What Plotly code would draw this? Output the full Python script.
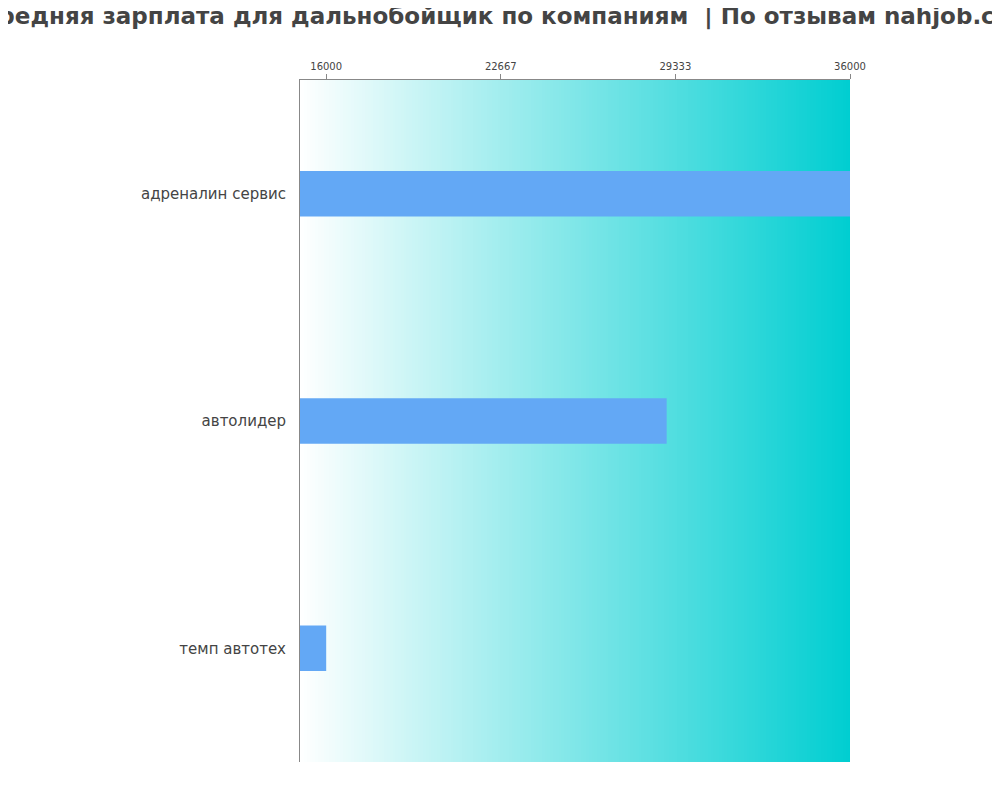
import numpy as np
import plotly.graph_objs as go

companies = ["адреналин сервис", "автолидер", "темп автотех"]
salaries = [36000, 29000, 16000]
tick_vals = [16000, 22667, 29333, 36000]
x_range = [15000, 36000]

TITLE = "Средняя зарплата для дальнобойщик по компаниям  | По отзывам nahjob.com"


def main():
    # background gradient, drawn as a heatmap over the same axes
    grad_x = np.linspace(x_range[0], x_range[1], 200)
    background = go.Heatmap(
        x=grad_x,
        y=companies,
        z=[list(grad_x)] * len(companies),
        colorscale=[[0, "#ffffff"], [1, "#00ced1"]],
        showscale=False,
        hoverinfo="skip",
    )

    bars = go.Bar(
        x=salaries,
        y=companies,
        orientation="h",
        width=0.2,
        marker=dict(color="#63a8f5", line=dict(width=0)),
    )

    layout = go.Layout(
        width=1000,
        height=800,
        showlegend=False,
        paper_bgcolor="white",
        plot_bgcolor="white",
        font=dict(family="DejaVu Sans", color="#444444"),
        title=dict(
            text=TITLE,
            x=0.5,
            xanchor="center",
            yref="container",
            y=1.0,
            yanchor="top",
            pad=dict(t=0),
            font=dict(size=23, color="#444444", family="DejaVu Sans", weight="bold"),
        ),
        margin=dict(l=292, r=158, t=72, b=46),
        xaxis=dict(
            side="top",
            range=x_range,
            tickvals=tick_vals,
            ticktext=[str(v) for v in tick_vals],
            tickfont=dict(size=10),
            ticks="outside",
            ticklen=5,
            tickcolor="#888888",
            showgrid=False,
            zeroline=False,
            showline=True,
            linecolor="#888888",
        ),
        yaxis=dict(
            autorange="reversed",
            tickfont=dict(size=15),
            ticks="",
            ticklabelstandoff=10,
            showgrid=False,
            zeroline=False,
            showline=True,
            linecolor="#888888",
        ),
    )

    fig = go.Figure(data=[background, bars], layout=layout)
    fig.write_html("out.html")


if __name__ == "__main__":
    main()
